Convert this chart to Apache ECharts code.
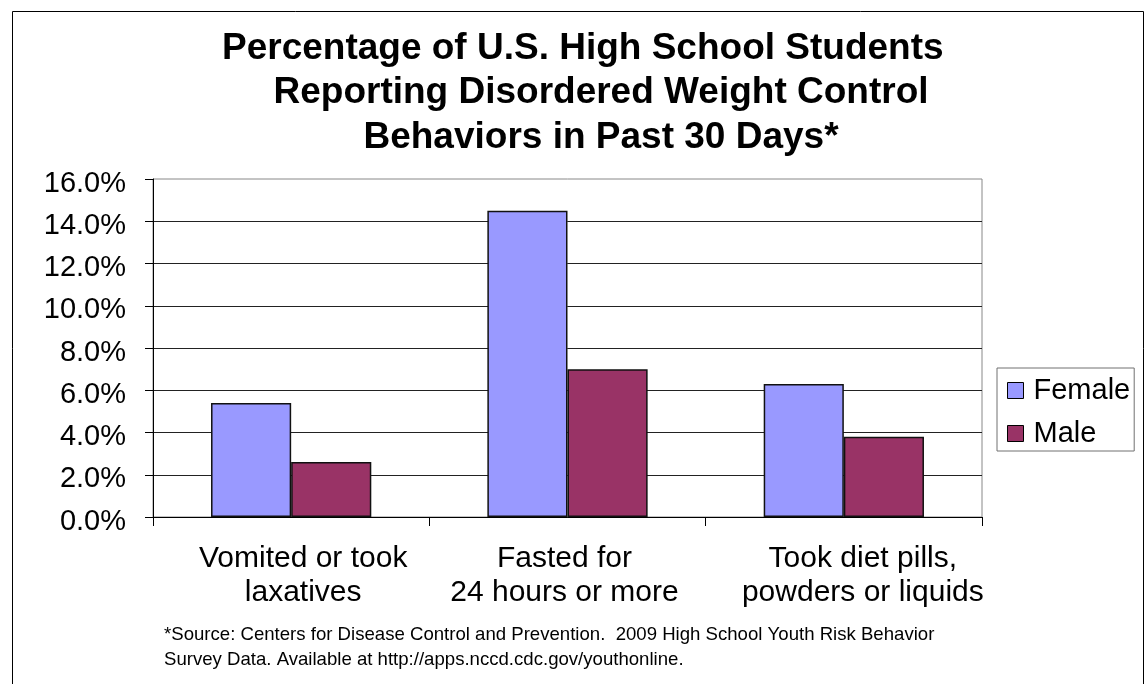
<!DOCTYPE html>
<html>
<head>
<meta charset="utf-8">
<title>Disordered Weight Control Behaviors</title>
<script src="https://cdn.jsdelivr.net/npm/echarts@6/dist/echarts.min.js"></script>
<style>
  html, body { margin: 0; padding: 0; background: #fff; }
  #chart { width: 1146px; height: 684px; }
</style>
</head>
<body>
<div id="chart"></div>
<script>
// Survey results, percent of students
var categories = ['Vomited or took\nlaxatives', 'Fasted for\n24 hours or more', 'Took diet pills,\npowders or liquids'];
var femaleValues = [5.4, 14.5, 6.3];
var maleValues = [2.6, 7.0, 3.8];
var seriesNames = ['Female', 'Male'];
// Per-category horizontal nudge for the wrapped axis labels
var labelShift = [12, -3, 19];

var FONT = "'Liberation Sans', Arial, Helvetica, sans-serif";

var chart = echarts.init(document.getElementById('chart'), null, { renderer: 'canvas' });

var xData = categories.map(function (c, i) {
  var d = labelShift[i];
  return {
    value: c,
    textStyle: { padding: d >= 0 ? [0, 0, 0, 2 * d] : [0, -2 * d, 0, 0] }
  };
});

var option = {
  animation: false,
  backgroundColor: '#ffffff',
  title: [
    {
      text: 'Percentage of U.S. High School Students',
      left: 222,
      top: 26,
      padding: 0,
      textStyle: { fontFamily: FONT, fontSize: 37, fontWeight: 'bold', color: '#000', lineHeight: 45 }
    },
    {
      text: 'Reporting Disordered Weight Control\nBehaviors in Past 30 Days*',
      left: 601,
      top: 70,
      padding: 0,
      textAlign: 'center',
      textStyle: { fontFamily: FONT, fontSize: 37, fontWeight: 'bold', color: '#000', lineHeight: 45 }
    },
    {
      text: '*Source: Centers for Disease Control and Prevention.  2009 High School Youth Risk Behavior\nSurvey Data. Available at http://apps.nccd.cdc.gov/youthonline.',
      left: 164,
      top: 622,
      padding: 0,
      textStyle: { fontFamily: FONT, fontSize: 18.6, fontWeight: 'normal', color: '#000', lineHeight: 25 }
    }
  ],
  legend: {
    data: seriesNames,
    orient: 'vertical',
    left: 997,
    top: 368,
    padding: [8, 4, 3, 10],
    itemGap: 14,
    itemWidth: 16,
    itemHeight: 16,
    icon: 'rect',
    borderColor: '#707070',
    borderWidth: 1,
    backgroundColor: '#fff',
    itemStyle: { borderColor: '#000', borderWidth: 1 },
    textStyle: { fontFamily: FONT, fontSize: 29, color: '#000', padding: [0, 0, 0, 5] }
  },
  grid: {
    left: 153,
    top: 179,
    width: 829,
    height: 338,
    show: true,
    borderColor: '#888888',
    borderWidth: 1,
    backgroundColor: '#ffffff',
    containLabel: false
  },
  xAxis: {
    type: 'category',
    data: xData,
    boundaryGap: true,
    axisLine: { show: true, lineStyle: { color: '#000', width: 1 } },
    axisTick: { show: true, length: 9, inside: false, alignWithLabel: false, lineStyle: { color: '#000' } },
    axisLabel: {
      interval: 0,
      margin: 25,
      fontFamily: FONT,
      fontSize: 30,
      lineHeight: 34,
      color: '#000'
    },
    splitLine: { show: false }
  },
  yAxis: {
    type: 'value',
    min: 0,
    max: 16,
    interval: 2,
    axisLine: { show: true, lineStyle: { color: '#000', width: 1 } },
    axisTick: { show: true, length: 8, lineStyle: { color: '#000' } },
    axisLabel: {
      margin: 27,
      color: '#000',
      formatter: function (v) { return '{p|' + v.toFixed(1) + '%}'; },
      rich: {
        p: { fontFamily: FONT, fontSize: 29, color: '#000', padding: [9, 0, 0, 0] }
      }
    },
    splitLine: { show: true, showMaxLine: false, lineStyle: { color: '#222', width: 1 } }
  },
  series: [
    {
      name: seriesNames[0],
      type: 'bar',
      data: femaleValues,
      barGap: '0%',
      barCategoryGap: '42%',
      itemStyle: { color: '#9999FF', borderColor: '#111', borderWidth: 1.5 }
    },
    {
      name: seriesNames[1],
      type: 'bar',
      data: maleValues,
      barGap: '0%',
      barCategoryGap: '42%',
      itemStyle: { color: '#993366', borderColor: '#111', borderWidth: 1.5 }
    }
  ],
  graphic: [
    {
      type: 'rect',
      silent: true,
      z: -1,
      shape: { x: 12.5, y: 11.5, width: 1131, height: 700 },
      style: { fill: null, stroke: '#000', lineWidth: 1 }
    }
  ]
};

chart.setOption(option);
</script>
</body>
</html>
